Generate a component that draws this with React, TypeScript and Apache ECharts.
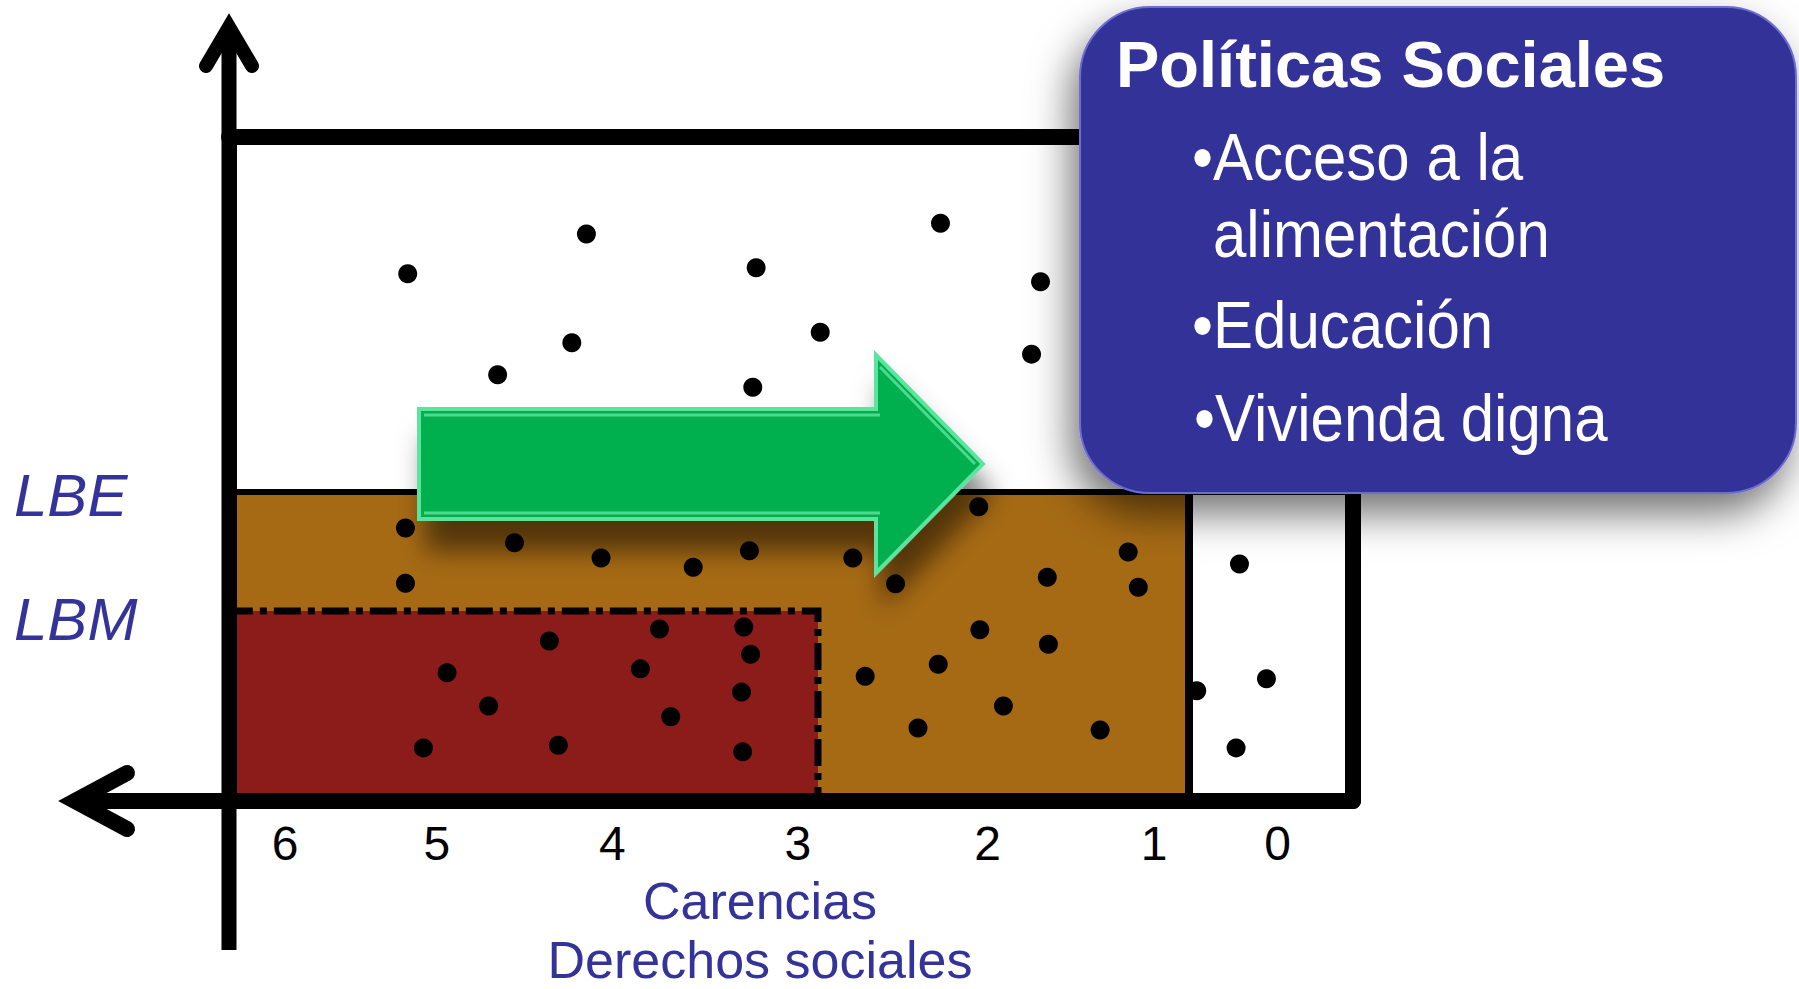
import React, { useEffect, useRef } from "react";
import * as echarts from "echarts";

// ---- data ----
const carencias = ["6", "5", "4", "3", "2", "1", "0"];
// position of each carencia label along the horizontal axis (0–100 scale)
const carenciaPos = [5.0, 18.5, 34.1, 50.6, 67.5, 82.3, 93.3];

const lineaNames = ["LBM", "LBE"];
const lineaValues = [28.6, 46.5];

// right edges of the shaded zones (0–100 scale)
const limitePobrezaExtrema = 52.4;
const limitePobreza = 85.4;

// dots (x, y on 0–100 scales)
const puntosSinPobreza = [
  [15.9, 79.4], [31.8, 85.4], [30.5, 69.0], [23.9, 64.2], [63.3, 87.0],
  [46.9, 80.3], [72.2, 78.2], [52.6, 70.6], [71.4, 67.3], [46.6, 62.3],
];
const puntosVulnerablesIngreso = [
  [15.7, 41.1], [15.7, 32.8], [25.4, 38.9], [33.1, 36.6], [41.3, 35.2],
  [46.3, 37.7], [55.5, 36.6], [59.3, 32.7], [66.7, 44.3], [80.0, 37.5],
  [72.8, 33.7], [80.9, 32.2],
];
const puntosPobrezaModerada = [
  [56.6, 18.8], [66.8, 25.8], [72.9, 23.6], [63.1, 20.6], [68.9, 14.3],
  [61.3, 11.0], [77.5, 10.7],
];
const puntosPobrezaExtrema = [
  [38.3, 25.9], [45.8, 26.2], [28.5, 24.1], [46.4, 22.1], [19.4, 19.3],
  [36.6, 19.9], [45.6, 16.4], [23.1, 14.3], [39.3, 12.7], [17.3, 8.0],
  [29.3, 8.4], [45.7, 7.4],
];
const puntosVulnerablesCarencias = [
  [89.9, 35.7], [92.3, 18.4], [89.6, 8.0], [86.1, 16.6],
];

const tituloPoliticas = "Políticas Sociales";
const lineasPoliticas = ["•Acceso a la", "alimentación", "•Educación", "•Vivienda digna"];
const nombreEje = "Carencias\nDerechos sociales";

// ---- styles ----
const FONT = "Liberation Sans";
const BLUE = "#333399";
const BROWN = "#A66A14";
const RED = "#8B1C1A";
const GREEN = "#00B050";

const GRID = { left: 229, right: 446, top: 137, bottom: 188 };

function labelFor(values: number[], names: string[], v: number) {
  const i = values.findIndex((p) => Math.abs(p - v) < 1e-6);
  return i >= 0 ? names[i] : "";
}

export default function App() {
  const ref = useRef<HTMLDivElement>(null);

  useEffect(() => {
    if (!ref.current) return;
    const chart = echarts.init(ref.current, null, { renderer: "svg" });

    const frameLine = { color: "#000", width: 16, cap: "round" as const };

    const dotSeries = (name: string, data: number[][], extra: any = {}) => ({
      type: "scatter",
      name,
      data,
      symbol: "circle",
      symbolSize: 19,
      itemStyle: { color: "#000", opacity: 1 },
      z: 3,
      silent: true,
      ...extra,
    });

    const policyX = [1192, 1213, 1192, 1194];
    const policyY = [157, 234, 325, 418];

    const option: any = {
      animation: false,
      backgroundColor: "#fff",
      grid: { ...GRID, containLabel: false, outerBoundsMode: "none" },
      xAxis: [
        {
          type: "value",
          min: 0,
          max: 100,
          position: "bottom",
          z: 6,
          axisLine: { show: true, onZero: false, lineStyle: frameLine },
          axisTick: { show: false },
          splitLine: { show: false },
          axisLabel: {
            show: true,
            customValues: carenciaPos,
            formatter: (v: number) => labelFor(carenciaPos, carencias, v),
            fontSize: 48,
            fontFamily: FONT,
            color: "#000",
            margin: 18,
          },
          name: nombreEje,
          nameLocation: "middle",
          nameGap: 70,
          nameMoveOverlap: false,
          nameTextStyle: {
            fontSize: 52,
            fontFamily: FONT,
            color: BLUE,
            lineHeight: 59,
            padding: [0, 62, 0, 0],
          },
        },
        {
          type: "value",
          min: 0,
          max: 100,
          position: "top",
          z: 6,
          axisLine: { show: true, onZero: false, lineStyle: frameLine },
          axisTick: { show: false },
          axisLabel: { show: false },
          splitLine: { show: false },
        },
      ],
      yAxis: [
        {
          type: "value",
          min: 0,
          max: 100,
          position: "left",
          z: 6,
          axisLine: { show: true, onZero: false, lineStyle: { color: "#000", width: 15 } },
          axisTick: { show: false },
          splitLine: { show: false },
          axisLabel: {
            show: true,
            customValues: lineaValues,
            formatter: (v: number) => {
              const t = labelFor(lineaValues, lineaNames, v);
              return t === "LBM" ? "{low|" + t + "}" : "{base|" + t + "}";
            },
            align: "left",
            margin: 215,
            rich: {
              base: {
                fontStyle: "italic",
                fontSize: 60,
                fontFamily: FONT,
                color: BLUE,
                padding: [6, 0, 0, 0],
              },
              low: {
                fontStyle: "italic",
                fontSize: 60,
                fontFamily: FONT,
                color: BLUE,
                padding: [16, 0, 0, 0],
              },
            },
          },
        },
        {
          type: "value",
          min: 0,
          max: 100,
          position: "right",
          z: 6,
          axisLine: { show: true, onZero: false, lineStyle: frameLine },
          axisTick: { show: false },
          axisLabel: { show: false },
          splitLine: { show: false },
        },
      ],
      series: [
        dotSeries("Sin pobreza", puntosSinPobreza, {
          markArea: {
            silent: true,
            data: [
              [
                { xAxis: 0, yAxis: 0, itemStyle: { color: BROWN, borderWidth: 0 } },
                { xAxis: limitePobreza, yAxis: lineaValues[1] },
              ],
              [
                {
                  xAxis: 0,
                  yAxis: 0,
                  itemStyle: {
                    color: RED,
                    borderColor: "#000",
                    borderWidth: 7,
                    borderType: [27, 7, 7, 7],
                  },
                },
                { xAxis: limitePobrezaExtrema, yAxis: lineaValues[0] },
              ],
            ],
          },
          markLine: {
            silent: true,
            symbol: "none",
            label: { show: false },
            lineStyle: { color: "#000", width: 6, type: "solid" },
            data: [
              { yAxis: lineaValues[1] },
              [
                { coord: [limitePobreza, 0], lineStyle: { color: "#000", width: 8, type: "solid" } },
                { coord: [limitePobreza, lineaValues[1]] },
              ],
            ],
          },
        }),
        dotSeries("Vulnerables por ingreso", puntosVulnerablesIngreso),
        dotSeries("Pobreza moderada", puntosPobrezaModerada),
        dotSeries("Pobreza extrema", puntosPobrezaExtrema),
        dotSeries("Vulnerables por carencias", puntosVulnerablesCarencias),
      ],
      graphic: {
        elements: [
          // extended vertical axis with open arrow
          {
            type: "line",
            shape: { x1: 229, y1: 32, x2: 229, y2: 950 },
            style: { stroke: "#000", lineWidth: 15 },
            z: 10,
            silent: true,
          },
          {
            type: "polyline",
            shape: { points: [[206, 66], [229, 27], [252, 66]] },
            style: { stroke: "#000", lineWidth: 14, lineCap: "round", lineJoin: "miter", fill: null },
            z: 10,
            silent: true,
          },
          // extended horizontal axis with open arrow
          {
            type: "line",
            shape: { x1: 76, y1: 801, x2: 229, y2: 801 },
            style: { stroke: "#000", lineWidth: 16 },
            z: 10,
            silent: true,
          },
          {
            type: "polyline",
            shape: { points: [[127, 773], [75, 801], [127, 829]] },
            style: { stroke: "#000", lineWidth: 16, lineCap: "round", lineJoin: "miter", fill: null },
            z: 10,
            silent: true,
          },
          // green arrow
          {
            type: "polygon",
            shape: {
              points: [
                [419, 409], [876, 409], [876, 355], [983, 464],
                [876, 573], [876, 519], [419, 519],
              ],
            },
            style: {
              fill: GREEN,
              stroke: "#5BE39E",
              lineWidth: 4,
              shadowBlur: 26,
              shadowOffsetX: 8,
              shadowOffsetY: 30,
              shadowColor: "rgba(0,0,0,0.5)",
            },
            z: 20,
            silent: true,
          },
          // bevel highlights of the arrow
          {
            type: "polyline",
            shape: { points: [[424, 415], [880, 415]] },
            style: { stroke: "#4FD98F", lineWidth: 3, fill: null },
            z: 21,
            silent: true,
          },
          {
            type: "polyline",
            shape: { points: [[880, 367], [975, 464]] },
            style: { stroke: "#4FD98F", lineWidth: 3, fill: null },
            z: 21,
            silent: true,
          },
          {
            type: "polyline",
            shape: { points: [[424, 513], [880, 513]] },
            style: { stroke: "#4FD98F", lineWidth: 3, fill: null },
            z: 21,
            silent: true,
          },
          // policies box
          {
            type: "rect",
            shape: { x: 1080, y: 7, width: 716, height: 486, r: 70 },
            style: {
              fill: BLUE,
              stroke: "#6C6CD2",
              lineWidth: 2,
              shadowBlur: 40,
              shadowOffsetX: -8,
              shadowOffsetY: 20,
              shadowColor: "rgba(0,0,0,0.55)",
            },
            z: 30,
            silent: true,
          },
          {
            type: "text",
            x: 1116,
            y: 64,
            style: {
              text: tituloPoliticas,
              fill: "#fff",
              fontSize: 65,
              fontWeight: "bold",
              fontFamily: FONT,
              verticalAlign: "middle",
              align: "left",
            },
            z: 31,
            silent: true,
          },
          ...lineasPoliticas.map((t, i) => ({
            type: "text",
            x: policyX[i],
            y: policyY[i],
            scaleY: 1.1,
            style: {
              text: t,
              fill: "#fff",
              fontSize: 60,
              fontFamily: FONT,
              verticalAlign: "middle",
              align: "left",
            },
            z: 31,
            silent: true,
          })),
        ],
      },
    };

    chart.setOption(option);
    return () => chart.dispose();
  }, []);

  return (
    <div
      ref={ref}
      style={{ position: "fixed", left: 0, top: 0, width: 1799, height: 989 }}
    />
  );
}
